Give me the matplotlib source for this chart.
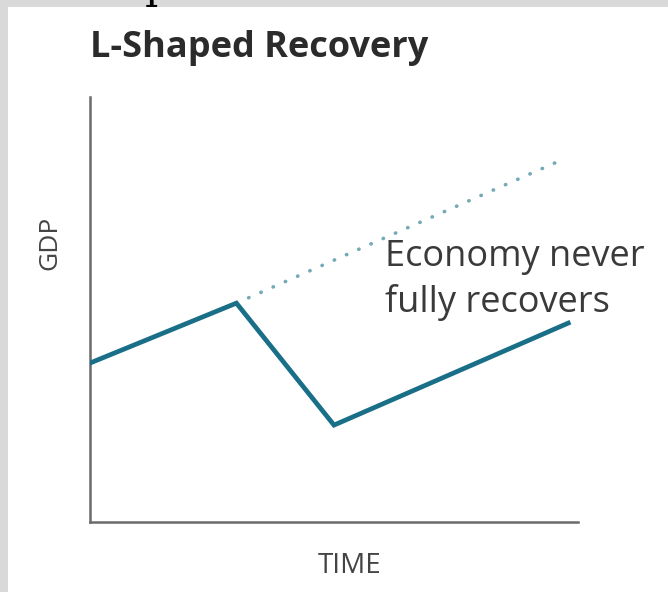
import matplotlib
matplotlib.use('Agg')
import matplotlib.pyplot as plt
from matplotlib.patches import Rectangle

plt.rcParams['font.family'] = ['Open Sans', 'DejaVu Sans']

# GDP path (actual) and the pre-crisis trend (dotted)
time = [0, 3, 5, 9.8]
gdp = [3.74, 5.15, 2.28, 4.68]
trend_time = [3, 9.53]
trend_gdp = [5.15, 8.45]

title = 'L-Shaped Recovery'
note = 'Economy never\nfully recovers'

W, H = 668, 592
fig = plt.figure(figsize=(W / 100, H / 100), dpi=100)
fig.patch.set_facecolor('#d9d9d9')
fig.patches.append(Rectangle((8 / W, 0), 1, 1 - 7 / H, transform=fig.transFigure,
                             facecolor='white', edgecolor='none', zorder=-10))

# cut-off glyph at the very top
fig.text(145 / W, 1 + 2 / H, 'p', family='DejaVu Serif', fontsize=30,
         va='baseline', ha='left', color='black')

ax = fig.add_axes([90 / W, (H - 522) / H, (578 - 90) / W, (522 - 97) / H])
ax.set_facecolor('none')
ax.set_xlim(0, 10)
ax.set_ylim(0, 10)

ax.plot(trend_time, trend_gdp, color='#74a9b6', lw=2.6, linestyle=(0, (0.1, 3.6)),
        dash_capstyle='round', zorder=2)
ax.plot(time, gdp, color='#1a6f88', lw=3.4, solid_joinstyle='miter', zorder=3)

ax.text(6.05, 5.69, note, fontsize=26, color='#3a3a3a', va='center', ha='left',
        linespacing=1.3)

for s in ['top', 'right']:
    ax.spines[s].set_visible(False)
for s in ['left', 'bottom']:
    ax.spines[s].set_color('#6b6b6b')
    ax.spines[s].set_linewidth(1.8)
ax.set_xticks([])
ax.set_yticks([])

fig.text(90 / W, 1 - 48 / H, title, fontsize=26, fontweight='bold',
         color='#2b2b2b', va='center', ha='left')
fig.text(50 / W, 1 - 243 / H, 'GDP', fontsize=19, color='#444444',
         rotation=90, va='center', ha='center')
fig.text(350 / W, 1 - 566 / H, 'TIME', fontsize=20, color='#444444',
         va='center', ha='center')

fig.savefig('out.png', dpi=100, facecolor=fig.get_facecolor())
